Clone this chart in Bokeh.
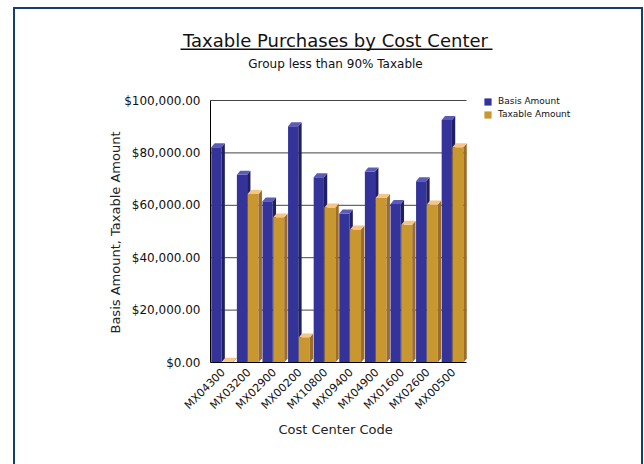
import numpy as np
from bokeh.plotting import figure
from bokeh.models import (FixedTicker, NumeralTickFormatter, Legend, LegendItem,
                          Label, BoxAnnotation, Range1d, Title)
from bokeh.embed import file_html
from bokeh.resources import INLINE

# ---- data ----
codes = ["MX04300", "MX03200", "MX02900", "MX00200", "MX10800",
         "MX09400", "MX04900", "MX01600", "MX02600", "MX00500"]
basis = [82200, 71700, 61500, 90200, 70700, 56900, 72900, 60500, 69200, 92600]
taxable = [300, 64300, 55400, 9600, 59200, 50800, 62800, 52600, 60300, 82200]
y_ticks = [0, 20000, 40000, 60000, 80000, 100000]
series_names = ["Basis Amount", "Taxable Amount"]

FONT = "DejaVu Sans"
BLUE, BLUE_SIDE, BLUE_TOP = "#333399", "#1f1f63", "#5c5cb8"
GOLD, GOLD_SIDE, GOLD_TOP = "#c9972f", "#9c6c2c", "#f6c487"
NAVY = "#143e70"

# ---- layout (pixels) ----
W, H = 644, 464
ZERO_Y = 362                     # page row of the value 0
FRAME_LEFT, FRAME_BOTTOM = 100, 370
AXIS_X = 210                     # where the value axis stands
CAT_PX = 25.6                    # pixels per category
VAL_PX = 262.0 / 100000          # pixels per value unit
n = len(codes)


def px_x(px):   # page pixel -> data x (text placement only)
    return -0.5 + (px - AXIS_X) / CAT_PX


def px_y(py):   # page pixel -> data y (text placement only)
    return (ZERO_Y - py) / VAL_PX


border_css = f"linear-gradient({NAVY},{NAVY})"
p = figure(width=W, height=H,
           x_range=Range1d(px_x(FRAME_LEFT), px_x(W)),
           y_range=Range1d(px_y(FRAME_BOTTOM), px_y(0)),
           output_backend="svg", toolbar_location=None,
           min_border_left=FRAME_LEFT, min_border_right=0,
           min_border_top=0, min_border_bottom=H - FRAME_BOTTOM,
           styles={
               "background-color": "white",
               "background-image": ", ".join([border_css] * 3),
               "background-size": "2px 470px, 630px 2px, 2px 470px",
               "background-position": "13px 7px, 13px 7px, 641px 7px",
               "background-repeat": "no-repeat",
           })
p.outline_line_color = None
p.background_fill_alpha = 0
p.border_fill_alpha = 0
p.xgrid.visible = False
p.ygrid.visible = False

idx = np.arange(n)
DX = 0.13     # depth in x (category units)
DY = 1500     # depth in y (value units)

# grid lines on the back wall, only across the category span
grid_vals = y_ticks[1:]
p.segment(x0=[-0.5] * len(grid_vals), x1=[n - 0.5] * len(grid_vals),
          y0=grid_vals, y1=grid_vals, line_color="#444444", line_width=1)


def bar3d(vals, left, w, front, side, top):
    vals = np.asarray(vals, dtype=float)
    xl = idx - 0.5 + left
    xr = xl + w
    r = p.vbar(x=xl + w / 2, width=w, top=vals, bottom=0,
               fill_color=front, line_color=None)
    p.patches(xs=[[a, a + DX, a + DX, a] for a in xr],
              ys=[[0, DY, v + DY, v] for v in vals],
              fill_color=side, line_color=None)
    p.patches(xs=[[a, b, b + DX, a + DX] for a, b in zip(xl, xr)],
              ys=[[v, v, v + DY, v + DY] for v in vals],
              fill_color=top, line_color=None)
    return r


r1 = bar3d(basis, 0.03, 0.40, BLUE, BLUE_SIDE, BLUE_TOP)
r2 = bar3d(taxable, 0.45, 0.43, GOLD, GOLD_SIDE, GOLD_TOP)

# base line under the bars (category axis line)
p.segment(x0=[-0.5], x1=[n - 0.5], y0=[y_ticks[0]], y1=[y_ticks[0]],
          line_color="black", line_width=1)

# y axis (stands at the left edge of the categories)
ya = p.yaxis[0]
ya.fixed_location = -0.5
ya.bounds = (y_ticks[0], y_ticks[-1])
ya.ticker = FixedTicker(ticks=y_ticks)
ya.formatter = NumeralTickFormatter(format="$0,0.00")
ya.major_label_text_font = FONT
ya.major_label_text_font_size = "12px"
ya.major_label_text_color = "#111111"
ya.major_label_standoff = 10
ya.major_tick_out = 0
ya.major_tick_in = 0
ya.minor_tick_out = 0
ya.minor_tick_in = 0
ya.axis_line_color = "black"

p.add_layout(Label(x=px_x(115), y=px_y(232), angle=np.pi / 2,
                   text="Basis Amount, Taxable Amount",
                   text_font=FONT, text_font_size="13px",
                   text_align="center", text_baseline="middle",
                   text_color="#222222"))

# x axis
xa = p.xaxis[0]
xa.bounds = (-0.5, n - 0.5)
xa.ticker = FixedTicker(ticks=list(idx))
xa.major_label_overrides = {int(i): c for i, c in zip(idx, codes)}
xa.major_label_orientation = np.pi / 4
xa.major_label_text_font = FONT
xa.major_label_text_font_size = "11px"
xa.major_label_text_color = "#111111"
xa.major_label_standoff = 0
xa.major_tick_out = 0
xa.major_tick_in = 0
xa.minor_tick_out = 0
xa.minor_tick_in = 0
xa.axis_line_color = None

# x axis title, under the category span
p.add_layout(Title(text="Cost Center Code", align="left",
                   offset=278 - FRAME_LEFT, standoff=0,
                   text_font=FONT, text_font_size="13px",
                   text_font_style="normal", text_color="#222222"), "below")

# legend (inside the widened frame, right of the bars)
legend = Legend(items=[LegendItem(label=series_names[0], renderers=[r1]),
                       LegendItem(label=series_names[1], renderers=[r2])],
                location=(483 - FRAME_LEFT, FRAME_BOTTOM - 119),
                orientation="vertical",
                margin=0, padding=0, spacing=3,
                glyph_width=9, glyph_height=9, label_height=10,
                label_standoff=6,
                label_text_font=FONT, label_text_font_size="9px",
                label_text_color="#111111",
                border_line_color=None, background_fill_alpha=0)
p.add_layout(legend)

# titles
p.add_layout(Label(x=px_x(335), y=px_y(40),
                   text="Taxable Purchases by Cost Center",
                   text_font=FONT, text_font_size="18px",
                   text_align="center", text_baseline="middle",
                   text_color="#111111"))
p.add_layout(BoxAnnotation(left=px_x(180), right=px_x(492),
                           bottom=px_y(49.5), top=px_y(48),
                           fill_color="#111111", fill_alpha=1, line_color=None))
p.add_layout(Label(x=px_x(335), y=px_y(63),
                   text="Group less than 90% Taxable",
                   text_font=FONT, text_font_size="12px",
                   text_align="center", text_baseline="middle",
                   text_color="#111111"))

open("out.html", "w").write(file_html(p, INLINE))
